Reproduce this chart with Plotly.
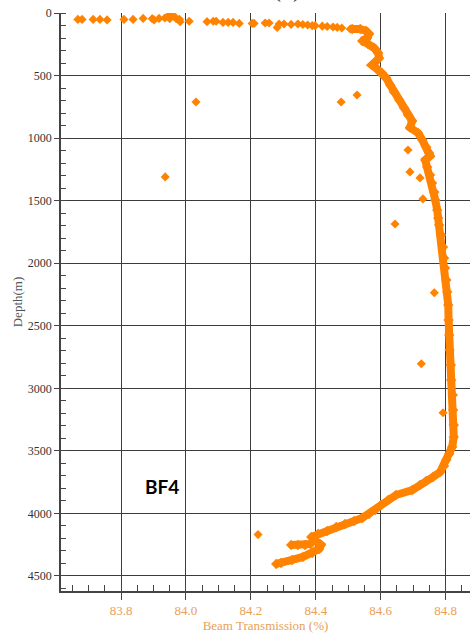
import plotly.graph_objects as go

# Surface scatter (0-130 m), markers only
surf_x = [83.667, 83.680, 83.714, 83.735, 83.757, 83.809, 83.837, 83.868, 83.896, 83.902,
          83.917, 83.935, 83.945, 83.950, 83.955, 83.965, 83.970, 83.980, 83.982, 84.010,
          84.065, 84.084, 84.093, 84.114, 84.130, 84.145, 84.164, 84.204, 84.210, 84.244,
          84.256, 84.281, 84.287, 84.302, 84.324, 84.345, 84.360, 84.375, 84.389, 84.398,
          84.420, 84.435, 84.453, 84.466, 84.480, 84.506]
surf_d = [51, 51, 51, 51, 55, 51, 51, 43, 45, 55,
          43, 40, 24, 45, 20, 30, 45, 50, 69, 66,
          69, 66, 66, 75, 75, 75, 83, 83, 83, 80,
          80, 115, 88, 88, 91, 88, 92, 96, 101, 101,
          105, 108, 112, 115, 120, 128]

# Main profile (dense band)
prof_x = [84.512, 84.537, 84.555, 84.564, 84.558, 84.543, 84.561, 84.580, 84.592, 84.595,
          84.583, 84.573, 84.589, 84.604, 84.617, 84.629, 84.641, 84.657, 84.672, 84.684,
          84.697, 84.690, 84.715, 84.728, 84.740, 84.749, 84.752, 84.737, 84.743, 84.752,
          84.758, 84.765, 84.768, 84.774, 84.777, 84.780, 84.786, 84.792, 84.795, 84.798,
          84.802, 84.805, 84.808, 84.809, 84.811, 84.812, 84.816, 84.817, 84.822, 84.823,
          84.825, 84.825, 84.820, 84.811, 84.802, 84.795, 84.783, 84.761, 84.740, 84.721,
          84.697, 84.647, 84.623, 84.601, 84.583, 84.564, 84.543, 84.518, 84.490, 84.463,
          84.435, 84.407, 84.386, 84.401, 84.416, 84.410, 84.389, 84.360, 84.327, 84.293,
          84.278, None, 84.324, 84.345, 84.367, 84.384]
prof_d = [128, 128, 144, 168, 200, 224, 248, 280, 320, 360,
          392, 416, 448, 480, 520, 575, 631, 695, 759, 815,
          863, 915, 959, 1015, 1071, 1119, 1143, 1175, 1231, 1295,
          1359, 1431, 1495, 1575, 1639, 1695, 1774, 1870, 1958, 2038,
          2134, 2230, 2334, 2454, 2574, 2694, 2813, 2933, 3053, 3173,
          3293, 3389, 3469, 3525, 3573, 3621, 3669, 3709, 3741, 3773,
          3813, 3853, 3893, 3933, 3972, 4004, 4036, 4060, 4084, 4108,
          4140, 4164, 4188, 4220, 4252, 4284, 4316, 4348, 4372, 4396,
          4404, None, 4252, 4252, 4252, 4245]

# Isolated outliers
out_x = [84.031, 84.478, 84.527, 83.936, 84.684, 84.690, 84.721, 84.730, 84.644, 84.765,
         84.725, 84.792, 84.222]
out_d = [711, 711, 655, 1310, 1095, 1270, 1318, 1486, 1686, 2236,
         2804, 3195, 4169]

x_ticks = [83.8, 84.0, 84.2, 84.4, 84.6, 84.8]
y_ticks = [0, 500, 1000, 1500, 2000, 2500, 3000, 3500, 4000, 4500]

ORANGE = "#FF8300"
GRID = "#3c3c3c"

fig = go.Figure()
fig.add_trace(go.Scatter(x=prof_x, y=prof_d, mode="lines+markers",
                         line=dict(color=ORANGE, width=8),
                         marker=dict(color=ORANGE, size=8, symbol="diamond"),
                         connectgaps=False, showlegend=False, hoverinfo="skip"))
fig.add_trace(go.Scatter(x=surf_x, y=surf_d, mode="markers",
                         marker=dict(color=ORANGE, size=7, symbol="diamond"),
                         showlegend=False))
fig.add_trace(go.Scatter(x=out_x, y=out_d, mode="markers",
                         marker=dict(color=ORANGE, size=7, symbol="diamond"),
                         showlegend=False))

fig.update_layout(
    width=470, height=633,
    margin=dict(l=61, r=0, t=13, b=42),
    paper_bgcolor="white", plot_bgcolor="white",
    font=dict(family="Liberation Serif", size=12, color="#333"),
)
fig.update_xaxes(
    range=[83.615, 84.875], tickvals=x_ticks, ticktext=[f"{v:.1f}" for v in x_ticks],
    automargin=False,
    showgrid=True, gridcolor=GRID, gridwidth=1.3, zeroline=False,
    showline=True, linecolor="#444", linewidth=1.5,
    ticks="outside", ticklen=7, tickcolor="#444", tickwidth=1.3,
    tickfont=dict(family="Liberation Serif", size=13, color="#E8A058"),
    minor=dict(dtick=0.05, tick0=0, ticks="inside", ticklen=6, tickcolor="#444", tickwidth=1, showgrid=False),
    title=dict(text="Beam Transmission (%)", font=dict(family="Liberation Serif", size=13, color="#E8A058"), standoff=0),
)
fig.update_yaxes(
    range=[4620, 0], tickvals=y_ticks,
    automargin=False,
    showgrid=True, gridcolor=GRID, gridwidth=1.3, zeroline=False,
    showline=True, linecolor="#444", linewidth=1.5,
    ticks="outside", ticklen=5, tickcolor="#444", tickwidth=1.3,
    tickfont=dict(family="Liberation Serif", size=12, color="#333"),
    minor=dict(dtick=100, tick0=0, ticks="inside", ticklen=5, tickcolor="#444", tickwidth=1, showgrid=False),
    title=dict(text="Depth(m)", font=dict(family="Liberation Serif", size=13, color="#555"), standoff=2),
)
fig.add_annotation(x=83.925, y=3781, xref="x", yref="y", text="<b>BF4</b>", showarrow=False,
                   font=dict(family="Lato", size=19, color="black"))
fig.add_annotation(x=0.5526, y=1.016, xref="paper", yref="paper", yanchor="bottom",
                   text="(d)", showarrow=False,
                   font=dict(family="Liberation Serif", size=24, color="#333"))

fig.write_html("out.html", config={"displayModeBar": False},
               post_script="document.body.style.margin='0';")
